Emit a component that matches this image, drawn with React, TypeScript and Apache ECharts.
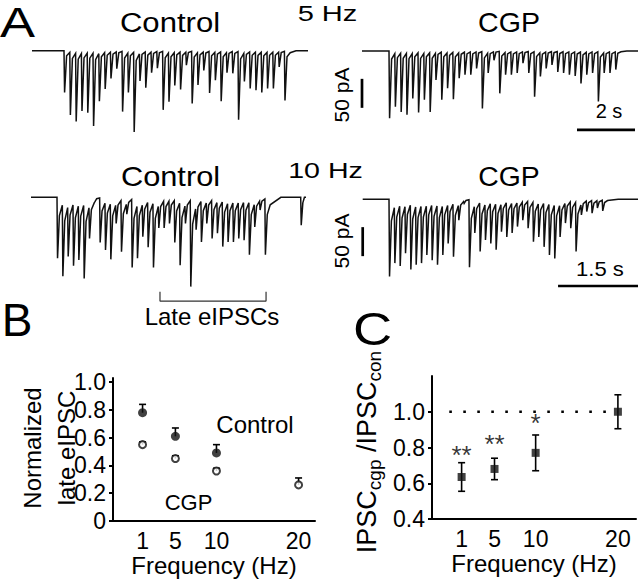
import React, { useEffect, useRef } from "react";
import * as echarts from "echarts";

const FONT = '"Liberation Sans", Arial, Helvetica, sans-serif';
const INK = "#111";

// ---------- Panel A: peak amplitudes (pA) of each evoked IPSC ----------
const stimInterval5Hz = 0.2; // s
const stimInterval10Hz = 0.1; // s
const ctrl5HzAmps = [72, 111, 122, 104, 107, 130, 87, 66, 48, 31, 105, 72, 140, 52, 64, 38, 30, 102, 88, 60, 67, 25, 91, 59, 34, 73, 51, 87, 38, 39, 119, 53, 65, 68, 72, 65, 65, 28, 86];
const cgp5HzAmps = [116, 96, 105, 110, 82, 106, 84, 105, 50, 84, 64, 83, 47, 41, 41, 30, 99, 38, 16, 73, 41, 41, 38, 21, 38, 79, 44, 30, 24, 36, 38, 41, 43, 56, 41, 38, 87, 38, 38, 32];
const ctrl10HzAmps = [105, 136, 102, 118, 108, 140, 71, 8, 78, 91, 107, 45, 94, 29, 121, 105, 68, 86, 121, 53, 53, 45, 78, 117, 45, 154, 56, 77, 45, 71, 62, 85, 77, 77, 71, 74, 99, 51, 22, 99];
const ctrl10HzTest = [[5.06, 48]]; // [time s, amplitude pA]
const cgp10HzAmps = [133, 110, 115, 93, 121, 113, 110, 96, 105, 113, 96, 76, 99, 36, 7, 117, 58, 90, 70, 76, 87, 56, 65, 58, 47, 36, 50, 73, 65, 82, 96, 102, 65, 41, 50, 90, 27, 21, 24, 15, 20];
const scaleBarPA = 50;
const scaleBar5HzS = 2;
const scaleBar10HzS = 1.5;
const lateWindow = [2.42, 4.41]; // s, "Late eIPSCs"

// ---------- Panel B ----------
const freqs = [1, 5, 10, 20];
const ctrlNorm = [0.78, 0.61, 0.49];
const ctrlNormErr = [0.06, 0.06, 0.06];
const cgpNorm = [0.55, 0.45, 0.36, 0.26];
const cgpNormErr = [0.02, 0.02, 0.02, 0.05];
const bTicks = [0, 0.2, 0.4, 0.6, 0.8, 1.0];

// ---------- Panel C ----------
const ratio = [0.635, 0.68, 0.77, 1.0];
const ratioErr = [0.08, 0.06, 0.1, 0.095];
const stars = ["**", "**", "*"];
const starY = [0.785, 0.85, 0.965];
const cTicks = [0.4, 0.6, 0.8, 1.0];
const refLevel = 1.0;

const PX_PER_PA = 29 / scaleBarPA;

function traceLayout(left: number, right: number, baseline: number, pxPerS: number) {
  return {
    grid: { left, top: baseline - 15, width: right - left, height: 125 },
    xMax: (right - left) / pxPerS,
    yMax: 15 / PX_PER_PA,
    yMin: -110 / PX_PER_PA,
  };
}

function buildTrace(
  t0: number,
  dt: number,
  amps: number[],
  fRes: number,
  fMid: number,
  tEnd: number,
  extra: number[][] = []
) {
  const pts: number[][] = [[0, 0]];
  let prev = 0;
  amps.forEach((a, i) => {
    const t = t0 + i * dt;
    pts.push([t, -prev * fRes]);
    pts.push([t + dt * 0.1, -a]);
    pts.push([t + dt * 0.45, -a * fMid]);
    prev = a;
  });
  const tLast = t0 + amps.length * dt;
  pts.push([tLast, -prev * fRes]);
  pts.push([tLast + 0.2, 0]);
  extra.forEach(([t, a]) => {
    pts.push([t, 0]);
    pts.push([t + 0.01, -a]);
    pts.push([t + 0.04, -a * 0.2]);
    pts.push([t + 0.07, 0]);
  });
  pts.push([tEnd, 0]);
  return pts;
}

const L1 = traceLayout(32, 308, 50.7, 29);
const L2 = traceLayout(362, 638, 51, 29);
const L3 = traceLayout(31, 306, 197.3, 53.3);
const L4 = traceLayout(362.7, 638, 199.3, 53.3);
const layouts = [L1, L2, L3, L4];

const trace1 = buildTrace(32 / 29, stimInterval5Hz, ctrl5HzAmps, 0.04, 0.12, L1.xMax);
const trace2 = buildTrace(27 / 29, stimInterval5Hz, cgp5HzAmps, 0.04, 0.12, L2.xMax);
const trace3 = buildTrace(26 / 53.3, stimInterval10Hz, ctrl10HzAmps, 0.13, 0.3, L3.xMax, ctrl10HzTest);
const trace4 = buildTrace(26.3 / 53.3, stimInterval10Hz, cgp10HzAmps, 0.11, 0.28, L4.xMax);

function errorBarItem(capHalf: number) {
  return (params: any, api: any) => {
    const x = api.value(0);
    const lo = api.value(2);
    const hi = api.value(3);
    const top = api.coord([x, hi]);
    const bot = api.coord([x, lo]);
    const st = { stroke: "#000", lineWidth: 1.6 };
    const children: any[] = [
      { type: "line", shape: { x1: top[0], y1: top[1], x2: bot[0], y2: bot[1] }, style: st },
      { type: "line", shape: { x1: top[0] - capHalf, y1: top[1], x2: top[0] + capHalf, y2: top[1] }, style: st },
    ];
    if (lo < api.value(1)) {
      children.push({ type: "line", shape: { x1: bot[0] - capHalf, y1: bot[1], x2: bot[0] + capHalf, y2: bot[1] }, style: st });
    }
    return { type: "group", children };
  };
}

function txt(text: string, x: number, y: number, fontSize: number, scaleX = 1, rotation = 0, extra: any = {}) {
  return {
    type: "text",
    x,
    y,
    scaleX,
    rotation,
    silent: true,
    style: {
      text,
      fill: "#000",
      fontSize,
      fontFamily: FONT,
      textAlign: "center",
      textVerticalAlign: "middle",
      align: "center",
      verticalAlign: "middle",
      ...extra,
    },
  };
}

const axisText = { color: "#000", fontFamily: FONT };

function freqXAxis(gridIndex: number, max: number) {
  return {
    type: "value",
    gridIndex,
    min: -2.6,
    max,
    axisLine: { show: true, onZero: false, lineStyle: { color: "#000", width: 2 } },
    axisTick: { show: false },
    splitLine: { show: false },
    axisLabel: { customValues: freqs.slice(), fontSize: 23, margin: 8, ...axisText },
    name: "Frequency (Hz)",
    nameLocation: "middle",
    nameGap: 32,
    nameTextStyle: { fontSize: 24, ...axisText },
  };
}

export default function App() {
  const ref = useRef<HTMLDivElement>(null);
  useEffect(() => {
    if (!ref.current) return;
    const chart = echarts.init(ref.current, null, { renderer: "svg" });

    const grids: any[] = layouts.map((l) => l.grid);
    grids.push({ left: 113, top: 378, width: 202, height: 143 });
    grids.push({ left: 432, top: 376, width: 204, height: 143 });

    const xAxes: any[] = layouts.map((l, i) => ({ type: "value", gridIndex: i, min: 0, max: l.xMax, show: false }));
    const yAxes: any[] = layouts.map((l, i) => ({ type: "value", gridIndex: i, min: l.yMin, max: l.yMax, show: false }));
    xAxes.push(freqXAxis(4, 22));
    xAxes.push(freqXAxis(5, 22.2));
    yAxes.push({
      type: "value",
      gridIndex: 4,
      min: 0,
      max: 1.03,
      axisLine: { show: true, onZero: false, lineStyle: { color: "#000", width: 2 } },
      axisTick: { show: true, length: 4, customValues: bTicks, lineStyle: { color: "#000", width: 2 } },
      splitLine: { show: false },
      axisLabel: {
        customValues: bTicks,
        fontSize: 23,
        margin: 7,
        formatter: (v: number) => (v === 0 ? "0" : v.toFixed(1)),
        ...axisText,
      },
    });
    yAxes.push({
      type: "value",
      gridIndex: 5,
      min: 0.4,
      max: 1.2,
      axisLine: { show: true, onZero: false, lineStyle: { color: "#000", width: 2 } },
      axisTick: { show: true, length: 4, customValues: cTicks, lineStyle: { color: "#000", width: 2 } },
      splitLine: { show: false },
      axisLabel: {
        customValues: cTicks,
        fontSize: 23,
        margin: 7,
        formatter: (v: number) => v.toFixed(1),
        ...axisText,
      },
    });

    const traceSeries = [trace1, trace2, trace3, trace4].map((d, i) => ({
      type: "line",
      xAxisIndex: i,
      yAxisIndex: i,
      data: d,
      symbol: "none",
      clip: false,
      silent: true,
      lineStyle: { color: INK, width: 1.5, join: "miter" },
    }));

    const barStyle = { color: "#000", width: 2.7 };
    const bar = (axis: number, data: number[][], style: any = barStyle) => ({
      type: "line",
      xAxisIndex: axis,
      yAxisIndex: axis,
      data,
      symbol: "none",
      clip: false,
      silent: true,
      lineStyle: style,
    });
    const vTop = -48;
    const hbar5End = 273 / 29;
    const hbar10End = L4.xMax;

    const series: any[] = [
      ...traceSeries,
      bar(1, [[0, vTop], [0, vTop - scaleBarPA]]),
      bar(1, [[hbar5End - scaleBar5HzS, -136], [hbar5End, -136]]),
      bar(3, [[0, vTop], [0, vTop - scaleBarPA]]),
      bar(3, [[hbar10End - scaleBar10HzS, -149.5], [hbar10End, -149.5]]),
      bar(2, [[lateWindow[0], -163], [lateWindow[0], -179], [lateWindow[1], -179], [lateWindow[1], -163]], { color: "#333", width: 1.2 }),
      // Panel B
      {
        type: "custom",
        xAxisIndex: 4,
        yAxisIndex: 4,
        z: 1,
        renderItem: errorBarItem(3.5),
        data: ctrlNorm.map((m, i) => [freqs[i], m, m, m + ctrlNormErr[i]]),
      },
      {
        type: "custom",
        xAxisIndex: 4,
        yAxisIndex: 4,
        z: 1,
        renderItem: errorBarItem(3.5),
        data: cgpNorm.map((m, i) => [freqs[i], m, m, m + cgpNormErr[i]]),
      },
      {
        type: "scatter",
        xAxisIndex: 4,
        yAxisIndex: 4,
        z: 3,
        symbol: "circle",
        symbolSize: 9,
        itemStyle: { color: "#111" },
        data: ctrlNorm.map((m, i) => [freqs[i], m]),
      },
      {
        type: "scatter",
        xAxisIndex: 4,
        yAxisIndex: 4,
        z: 3,
        symbol: "circle",
        symbolSize: 7,
        itemStyle: { color: "#fff", borderColor: "#111", borderWidth: 2 },
        data: cgpNorm.map((m, i) => [freqs[i], m]),
      },
      // Panel C
      {
        type: "line",
        xAxisIndex: 5,
        yAxisIndex: 5,
        z: 1,
        symbol: "none",
        silent: true,
        data: [[-0.5, refLevel], [20, refLevel]],
        lineStyle: { color: "#000", width: 2.6, type: [2.6, 11.4] },
      },
      {
        type: "custom",
        xAxisIndex: 5,
        yAxisIndex: 5,
        z: 2,
        renderItem: errorBarItem(3.5),
        data: ratio.map((m, i) => [freqs[i], m, m - ratioErr[i], m + ratioErr[i]]),
      },
      {
        type: "scatter",
        xAxisIndex: 5,
        yAxisIndex: 5,
        z: 3,
        symbol: "rect",
        symbolSize: 8,
        itemStyle: { color: "#111" },
        data: ratio.map((m, i) => [freqs[i], m]),
      },
      {
        type: "scatter",
        xAxisIndex: 5,
        yAxisIndex: 5,
        z: 3,
        symbolSize: 0,
        silent: true,
        data: stars.map((s, i) => ({ value: [freqs[i], starY[i]], name: s })),
        label: {
          show: true,
          position: "inside",
          formatter: (p: any) => p.name,
          fontSize: 26,
          offset: [0, 5],
          ...axisText,
        },
      },
    ];

    const graphics: any[] = [
      txt("A", 17.5, 22, 42, 1.25),
      txt("Control", 170, 22, 28, 1.11),
      txt("5 Hz", 327.5, 13, 22, 1.32),
      txt("CGP", 509, 22, 28, 1.02),
      txt("10 Hz", 325.5, 170.5, 22, 1.3),
      txt("Control", 170.5, 176.5, 27, 1.14),
      txt("CGP", 509, 176.5, 27, 1.05),
      txt("50 pA", 341, 95, 21, 1, Math.PI / 2),
      txt("50 pA", 341, 241, 21, 1, Math.PI / 2),
      txt("2 s", 609, 111, 20),
      txt("1.5 s", 600, 269, 21, 1.05),
      txt("Late eIPSCs", 212, 316, 24),
      txt("B", 17, 320, 46),
      txt("Control", 255, 424, 24),
      txt("CGP", 188.5, 502, 22),
      txt("C", 372.5, 328.5, 46, 1.18),
      txt("Normalized\nlate eIPSC", 49, 448, 24, 1, Math.PI / 2, { lineHeight: 34 }),
      {
        type: "text",
        x: 367,
        y: 452,
        rotation: Math.PI / 2,
        silent: true,
        style: {
          text: "{m|IPSC}{s|cgp}{m| /IPSC}{s|con}",
          fill: "#000",
          fontFamily: FONT,
          textAlign: "center",
          textVerticalAlign: "middle",
          align: "center",
          verticalAlign: "middle",
          rich: {
            m: { fontSize: 27, fontFamily: FONT, fill: "#000", lineHeight: 34, verticalAlign: "middle" },
            s: { fontSize: 19, fontFamily: FONT, fill: "#000", lineHeight: 34, verticalAlign: "bottom" },
          },
        },
      },
    ];

    chart.setOption({
      animation: false,
      backgroundColor: "#fff",
      grid: grids,
      xAxis: xAxes,
      yAxis: yAxes,
      series,
      graphic: { elements: graphics },
    });
    return () => chart.dispose();
  }, []);
  return <div ref={ref} style={{ position: "absolute", left: 0, top: 0, width: 640, height: 580 }} />;
}
